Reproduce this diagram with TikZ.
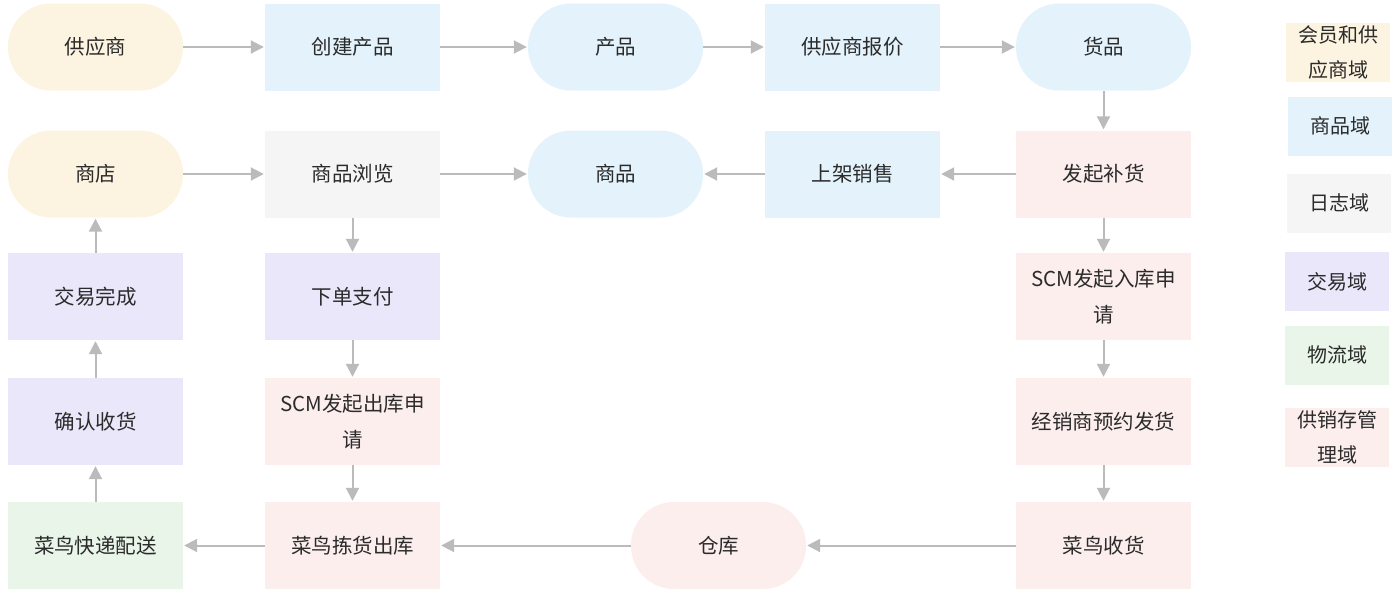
\documentclass[tikz,border=0pt]{standalone}
\usepackage{fontspec}
\newfontfamily\cjk{Noto Sans CJK SC}
\usetikzlibrary{arrows.meta}
\definecolor{cyel}{HTML}{FCF4E0}
\definecolor{cblue}{HTML}{E3F2FB}
\definecolor{cgrey}{HTML}{F5F5F5}
\definecolor{cpurp}{HTML}{EAE7FA}
\definecolor{cgreen}{HTML}{E8F5E8}
\definecolor{cpink}{HTML}{FCEEEC}
\definecolor{carrow}{HTML}{BBBBBB}
\definecolor{ctext}{HTML}{2B2B2B}
\begin{document}
\begin{tikzpicture}[x=1pt,y=-1pt,
  every node/.style={font=\cjk\fontsize{20.5}{36}\selectfont, text=ctext},
  box/.style={draw=none, minimum width=175pt, minimum height=87pt, inner sep=0pt, align=center},
  pill/.style={box, rounded corners=43pt},
  leg/.style={draw=none, minimum width=104pt, minimum height=59pt, inner sep=0pt, align=center, font=\cjk\fontsize{20}{35}\selectfont},
  arr/.style={draw=carrow, line width=2pt, -{Triangle[length=13pt,width=13pt]}, shorten >=1pt}
]
\useasboundingbox (0,0) rectangle (1400,592);
% row 1
\node[pill, fill=cyel]  (gys)  at (95.5,47) {供应商};
\node[box,  fill=cblue] (cjcp) at (352.5,47) {创建产品};
\node[pill, fill=cblue] (cp)   at (615.5,47) {产品};
\node[box,  fill=cblue] (bj)   at (852.5,47) {供应商报价};
\node[pill, fill=cblue] (hp)   at (1103.5,47) {货品};
% row 2
\node[pill, fill=cyel]  (sd)   at (95.5,174) {商店};
\node[box,  fill=cgrey] (ll)   at (352.5,174) {商品浏览};
\node[pill, fill=cblue] (sp)   at (615.5,174) {商品};
\node[box,  fill=cblue] (sj)   at (852.5,174) {上架销售};
\node[box,  fill=cpink] (bh)   at (1103.5,174) {发起补货};
% row 3
\node[box, fill=cpurp] (jywc) at (95.5,296.5) {交易完成};
\node[box, fill=cpurp] (xd)   at (352.5,296.5) {下单支付};
\node[box, fill=cpink] (rk)   at (1103.5,296.5) {SCM发起入库申\\请};
% row 4
\node[box, fill=cpurp] (qr)   at (95.5,421.5) {确认收货};
\node[box, fill=cpink] (ck)   at (352.5,421.5) {SCM发起出库申\\请};
\node[box, fill=cpink] (yy)   at (1103.5,421.5) {经销商预约发货};
% row 5
\node[box,  fill=cgreen] (ps)  at (95.5,545.5) {菜鸟快递配送};
\node[box,  fill=cpink]  (jh)  at (352.5,545.5) {菜鸟拣货出库};
\node[pill, fill=cpink]  (cku) at (718.5,545.5) {仓库};
\node[box,  fill=cpink]  (sh)  at (1103.5,545.5) {菜鸟收货};
% legend
\node[leg, fill=cyel]  (l1) at (1338,52)  {会员和供\\应商域};
\node[leg, fill=cblue] (l2) at (1340,126) {商品域};
\node[leg, fill=cgrey] (l3) at (1339,203) {日志域};
\node[leg, fill=cpurp] (l4) at (1337,281.5) {交易域};
\node[leg, fill=cgreen](l5) at (1337,355) {物流域};
\node[leg, fill=cpink] (l6) at (1337,437) {供销存管\\理域};
% arrows
\draw[arr] (gys) -- (cjcp);
\draw[arr] (cjcp) -- (cp);
\draw[arr] (cp) -- (bj);
\draw[arr] (bj) -- (hp);
\draw[arr] (hp) -- (bh);
\draw[arr] (bh) -- (sj);
\draw[arr] (sj) -- (sp);
\draw[arr] (sd) -- (ll);
\draw[arr] (ll) -- (sp);
\draw[arr] (ll) -- (xd);
\draw[arr] (xd) -- (ck);
\draw[arr] (ck) -- (jh);
\draw[arr] (bh) -- (rk);
\draw[arr] (rk) -- (yy);
\draw[arr] (yy) -- (sh);
\draw[arr] (sh) -- (cku);
\draw[arr] (cku) -- (jh);
\draw[arr] (jh) -- (ps);
\draw[arr] (ps) -- (qr);
\draw[arr] (qr) -- (jywc);
\draw[arr] (jywc) -- (sd);
\end{tikzpicture}
\end{document}
